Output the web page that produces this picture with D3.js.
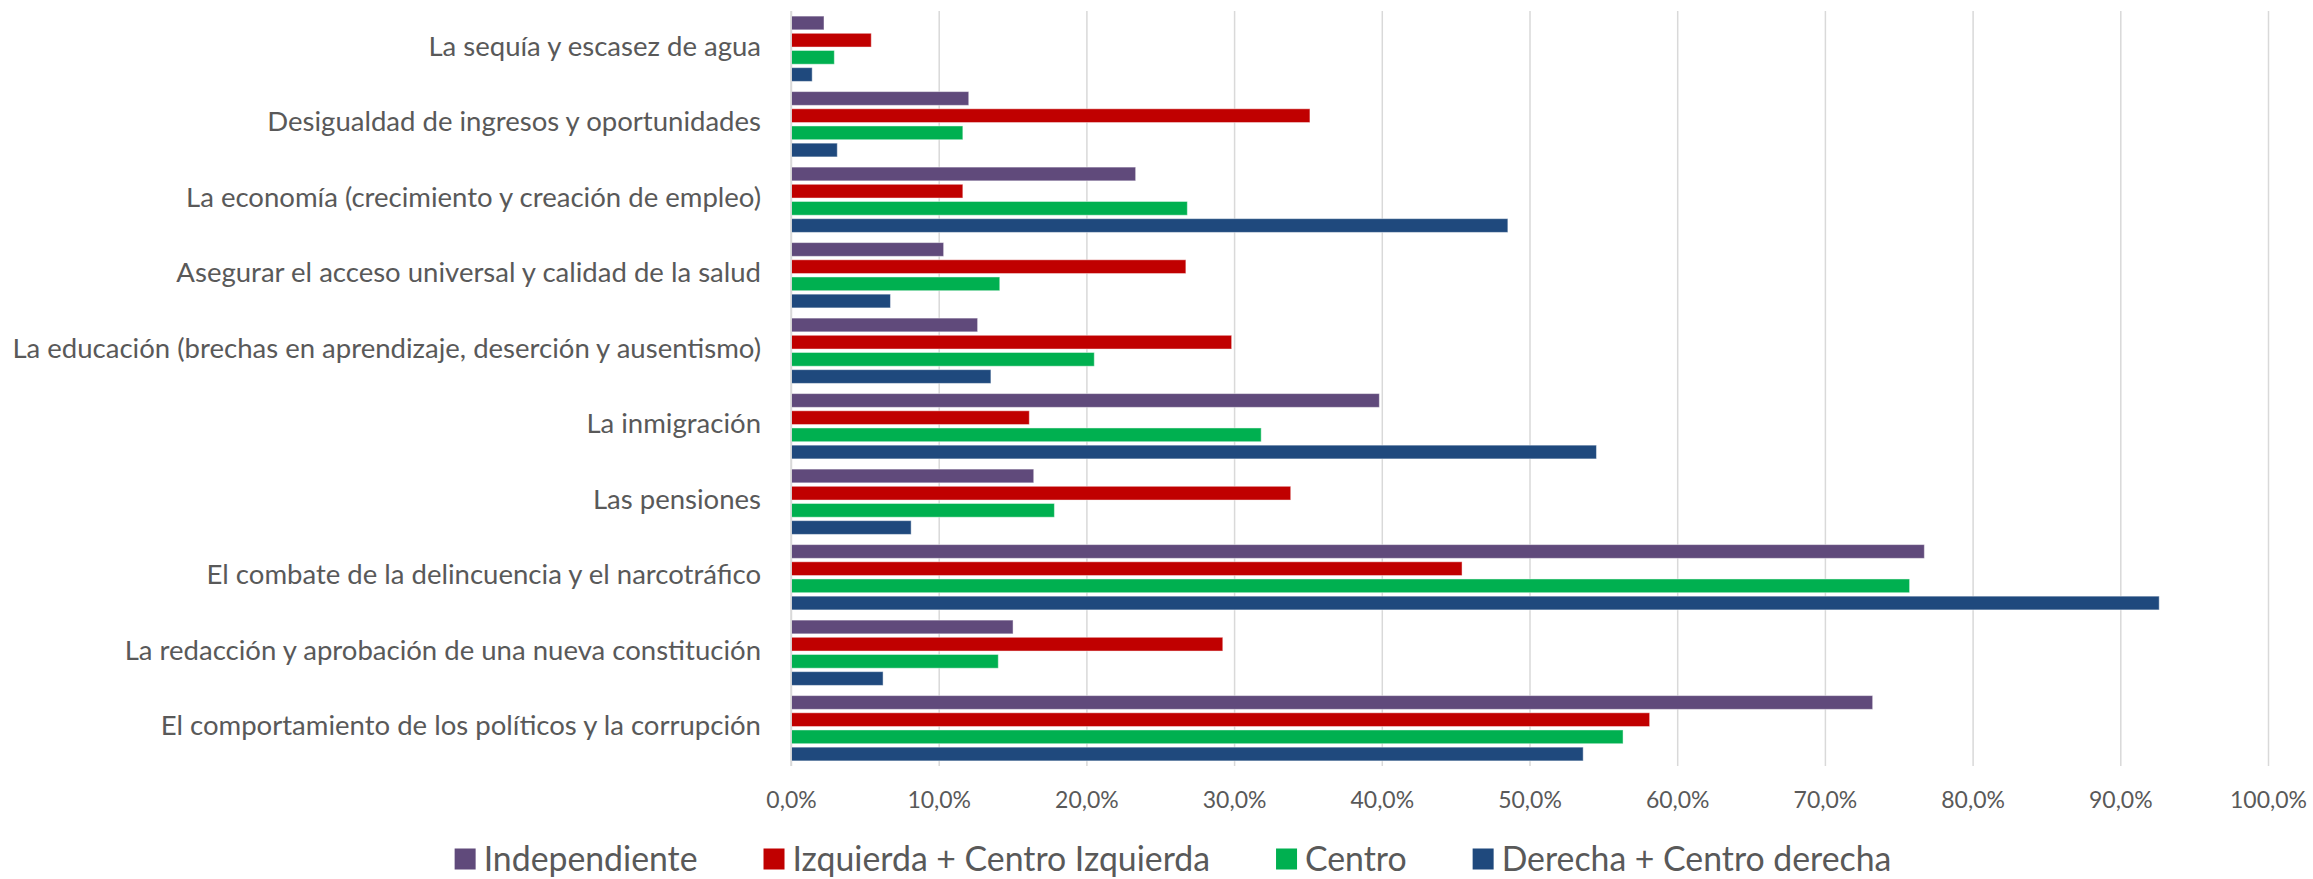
<!DOCTYPE html>
<html><head><meta charset="utf-8">
<script src="https://cdn.jsdelivr.net/npm/d3@7"></script>
<style>html,body{margin:0;padding:0;background:#fff;}svg{display:block;}</style>
</head><body>
<svg id="chart" width="2313" height="879"></svg>
<script>
const categories = [
  "La sequía y escasez de agua",
  "Desigualdad de ingresos y oportunidades",
  "La economía (crecimiento y creación de empleo)",
  "Asegurar el acceso universal y calidad de la salud",
  "La educación (brechas en aprendizaje, deserción y ausentismo)",
  "La inmigración",
  "Las pensiones",
  "El combate de la delincuencia y el narcotráfico",
  "La redacción y aprobación de una nueva constitución",
  "El comportamiento de los políticos y la corrupción"
];
const seriesNames = ["Independiente", "Izquierda + Centro Izquierda", "Centro", "Derecha + Centro derecha"];
const independiente = [2.2, 12.0, 23.3, 10.3, 12.6, 39.8, 16.4, 76.7, 15.0, 73.2];
const izquierda     = [5.4, 35.1, 11.6, 26.7, 29.8, 16.1, 33.8, 45.4, 29.2, 58.1];
const centro        = [2.9, 11.6, 26.8, 14.1, 20.5, 31.8, 17.8, 75.7, 14.0, 56.3];
const derecha       = [1.4,  3.1, 48.5,  6.7, 13.5, 54.5,  8.1, 92.6,  6.2, 53.6];
const tickValues = [0, 10, 20, 30, 40, 50, 60, 70, 80, 90, 100];
const colors = ["#604A7B", "#C00000", "#00B050", "#1F497D"];

const seriesValues = [independiente, izquierda, centro, derecha];
const FONT = "Lato, 'Open Sans', sans-serif";
const TXT = "#595959";

const svg = d3.select("#chart");
const m = {left: 791, right: 2268, top: 11, bottom: 766};

const x = d3.scaleLinear().domain([0, 100]).range([m.left, m.right]);
const y0 = d3.scaleBand().domain(categories).range([m.top, m.bottom]).paddingInner(0.135).paddingOuter(0.0675);
const y1 = d3.scaleBand().domain(seriesNames).range([0, y0.bandwidth()]).paddingInner(0.2).paddingOuter(0);

// gridlines
const grid = svg.append("g").attr("transform", `translate(0,${m.top})`)
  .call(d3.axisBottom(x).tickValues(tickValues).tickSize(m.bottom - m.top).tickFormat(""));
grid.select(".domain").remove();
grid.selectAll("line").attr("stroke", "#d9d9d9").attr("stroke-width", 1.5);

// bars
const groups = svg.append("g").selectAll("g").data(categories).join("g")
  .attr("transform", d => `translate(0,${y0(d)})`);
groups.selectAll("rect")
  .data((c, i) => seriesNames.map((s, j) => ({s, j, v: seriesValues[j][i]})))
  .join("rect")
  .attr("x", x(0) + 0.5)
  .attr("y", d => y1(d.s))
  .attr("width", d => x(d.v) - x(0))
  .attr("height", y1.bandwidth())
  .attr("fill", d => colors[d.j])
  .attr("stroke", "rgba(255,255,255,0.45)")
  .attr("stroke-width", 1);

// x axis labels
const fmt = v => v.toFixed(1).replace(".", ",") + "%";
const xAxis = svg.append("g").attr("transform", `translate(0,${m.bottom})`)
  .call(d3.axisBottom(x).tickValues(tickValues).tickSize(0).tickPadding(0).tickFormat(fmt));
xAxis.select(".domain").remove();
xAxis.selectAll("text").attr("font-family", FONT).attr("fill", TXT).attr("font-size", 24)
  .attr("y", 0).attr("dy", 0);

// y axis labels
const yAxis = svg.append("g").attr("transform", `translate(${m.left - 30},0)`)
  .call(d3.axisLeft(y0).tickSize(0).tickPadding(0));
yAxis.select(".domain").remove();
yAxis.selectAll("text").attr("font-family", FONT).attr("fill", TXT).attr("font-size", 24)
  .attr("x", 0).attr("dy", 0);

// fit font sizes to reference widths
function fit(sel, refText, target) {
  let w = 0;
  sel.each(function () { if (this.textContent === refText) w = this.getComputedTextLength(); });
  const fs = 24 * target / w;
  sel.attr("font-size", fs);
  return fs;
}
const yfs = fit(yAxis.selectAll("text"), categories[4], 749);
yAxis.selectAll("text").attr("dy", (yfs * 0.33 - 2) + "px");
const xfs = fit(xAxis.selectAll("text"), "100,0%", 77);
xAxis.selectAll("text").attr("y", 800 - m.bottom + xfs * 0.36);

// bounding line at the left of the plot
svg.append("line").attr("x1", x(0)).attr("x2", x(0)).attr("y1", m.top).attr("y2", m.bottom)
  .attr("stroke", "#d9d9d9").attr("stroke-width", 1.5);

// legend
const legend = svg.append("g");
const items = legend.selectAll("g").data(seriesNames).join("g");
items.append("rect").attr("width", 21).attr("height", 21).attr("y", -10.5)
  .attr("fill", (d, i) => colors[i]);
const ltext = items.append("text").text(d => d).attr("x", 29)
  .attr("font-family", FONT).attr("fill", TXT).attr("font-size", 24);
const lfs = fit(ltext, "Independiente", 214);
ltext.attr("dy", (lfs * 0.36) + "px");
let cx = 0;
const offs = [];
ltext.each(function (d, i) { offs.push(cx); cx += 29 + this.getComputedTextLength() + 66; });
const total = cx - 66;
const startX = 1173 - total / 2;
items.attr("transform", (d, i) => `translate(${startX + offs[i]},859)`);
</script>
</body></html>
